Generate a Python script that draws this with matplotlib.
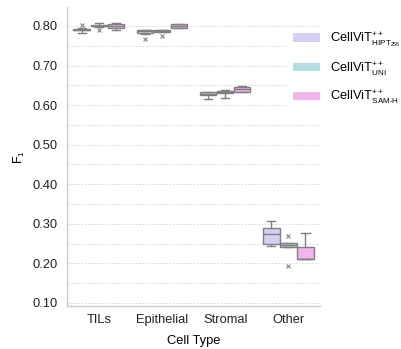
import matplotlib
matplotlib.use("Agg")
import matplotlib.pyplot as plt
from matplotlib.patches import Patch
from matplotlib.ticker import MultipleLocator
import numpy as np
try:
    import matplotlib._mathtext as _mt
    _mt.SHRINK_FACTOR = 0.63
except Exception:
    pass

plt.rcParams['font.family'] = ['Liberation Sans', 'DejaVu Sans']
plt.rcParams['mathtext.fontset'] = 'custom'
plt.rcParams['mathtext.rm'] = 'Liberation Sans'
plt.rcParams['mathtext.it'] = 'Liberation Sans'
plt.rcParams['mathtext.bf'] = 'Liberation Sans'

categories = ["TILs", "Epithelial", "Stromal", "Other"]
models = [r"CellViT$\mathregular{^{++}_{HIPT_{256}}}$",
          r"CellViT$\mathregular{^{++}_{UNI}}$",
          r"CellViT$\mathregular{^{++}_{SAM\text{-}H}}$"]
colors = ["#d6cff5", "#b3dde3", "#f2b4ec"]

# box statistics per model, per category
whislo = [[0.783, 0.780, 0.615, 0.245],
          [0.797, 0.785, 0.618, 0.242],
          [0.790, 0.795, 0.633, 0.210]]
q1 = [[0.789, 0.783, 0.626, 0.250],
      [0.799, 0.786, 0.631, 0.242],
      [0.796, 0.796, 0.634, 0.212]]
med = [[0.791, 0.788, 0.629, 0.275],
       [0.801, 0.787, 0.633, 0.246],
       [0.801, 0.800, 0.640, 0.212]]
q3 = [[0.793, 0.790, 0.632, 0.290],
      [0.803, 0.789, 0.635, 0.252],
      [0.805, 0.805, 0.645, 0.242]]
whishi = [[0.795, 0.791, 0.634, 0.307],
          [0.808, 0.790, 0.637, 0.252],
          [0.807, 0.806, 0.648, 0.276]]
fliers = [[[0.803], [0.767], [], []],
          [[0.790], [0.775], [], [0.270, 0.193]],
          [[], [], [], []]]

fig = plt.figure(figsize=(4.02, 3.49), dpi=100)
ax = fig.add_axes([0.167, 0.123, 0.629, 0.857])

offsets = [-0.27, 0.0, 0.27]
edge = "#808080"
for m in range(3):
    stats = []
    for c in range(4):
        stats.append(dict(whislo=whislo[m][c], q1=q1[m][c], med=med[m][c],
                          q3=q3[m][c], whishi=whishi[m][c], fliers=fliers[m][c]))
    pos = [c + offsets[m] for c in range(4)]
    ax.bxp(stats, positions=pos, widths=0.26, patch_artist=True,
           boxprops=dict(facecolor=colors[m], edgecolor=edge, linewidth=1.0),
           medianprops=dict(color=edge, linewidth=1.0),
           whiskerprops=dict(color=edge, linewidth=1.0),
           capprops=dict(color=edge, linewidth=1.0),
           flierprops=dict(marker='x', markersize=3, markeredgecolor=edge,
                           markeredgewidth=0.8),
           capwidths=0.13, zorder=3)

ax.set_xlim(-0.5, 3.5)
ax.set_ylim(0.092, 0.848)
ax.set_xticks(range(4))
ax.set_xticklabels(categories, fontsize=9.3)
ax.yaxis.set_minor_locator(MultipleLocator(0.05))
ax.set_yticks(np.arange(0.1, 0.81, 0.1))
ax.set_yticklabels([f"{v:.2f}" for v in np.arange(0.1, 0.81, 0.1)])
ax.tick_params(axis='both', length=0, labelsize=9.3, colors='#222222')
ax.tick_params(axis='y', pad=7)
ax.tick_params(axis='x', pad=6)
ax.tick_params(which='minor', length=0)
ax.grid(True, which='both', axis='y', color='#dcdcdc', linestyle=(0, (2, 1.5)), linewidth=0.7, zorder=0)
ax.set_axisbelow(True)
for s in ['top', 'right']:
    ax.spines[s].set_visible(False)
for s in ['left', 'bottom']:
    ax.spines[s].set_color('#cccccc')
    ax.spines[s].set_linewidth(1.0)

ax.set_xlabel("Cell Type", fontsize=9.3, labelpad=6)
ax.set_ylabel(r"F$\mathregular{_1}$", fontsize=9.3, labelpad=4)

handles = [Patch(facecolor=colors[m], edgecolor='none', label=models[m]) for m in range(3)]
fig.legend(handles=handles, loc='upper left', bbox_to_anchor=(0.703, 0.942),
           frameon=True, facecolor='white', edgecolor='none', framealpha=1,
           fontsize=9.3, handlelength=2.1, handleheight=0.6, labelspacing=0.87,
           handletextpad=0.8, borderpad=0.3)

fig.savefig("out.png", dpi=100)
